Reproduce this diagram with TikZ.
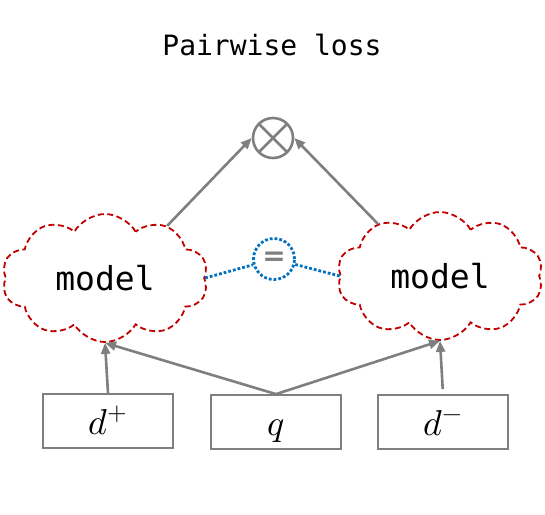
\documentclass[tikz,border=0pt]{standalone}
\usepackage{unicode-math}
\setmonofont{DejaVu Sans Mono}
\setmathfont{Latin Modern Math}
\newfontfamily\eqfont{DejaVu Sans}
\usetikzlibrary{shapes.symbols, arrows.meta}
\definecolor{linegray}{HTML}{7F7F7F}
\definecolor{cloudred}{HTML}{C00000}
\definecolor{eqblue}{HTML}{0070C0}

\begin{document}
\begin{tikzpicture}[x=1pt, y=-1pt,
	inbox/.style = {draw = linegray, line width = 1.8pt, minimum width = 130pt, minimum height = 54pt, text height = 26pt, text depth = 0pt, font = \fontsize{36}{38}\selectfont},
	model/.style = {cloud, cloud puffs = 10, cloud puff arc = 120, aspect = 1.7, draw = cloudred, dash pattern = on 6pt off 3.5pt, line width = 1.8pt, minimum width = 206pt, minimum height = 128pt, font = \ttfamily\fontsize{33}{35}\selectfont},
	arr/.style = {draw = linegray, line width = 2.6pt, -{Triangle[length = 11pt, width = 9pt]}},
	otimes/.style = {circle, draw = linegray, line width = 2.6pt, minimum size = 40pt, inner sep = 0pt, path picture = {\draw[linegray, line width = 2.6pt] (path picture bounding box.north west) -- (path picture bounding box.south east) (path picture bounding box.north east) -- (path picture bounding box.south west);}}
	]
	\useasboundingbox (0, 0) rectangle (545, 514);
	
	\node[font = \ttfamily\fontsize{28}{30}\selectfont] (title) at (272, 45) {Pairwise loss};
	
	\node[otimes] (ox) at (273, 138) {};
	\node[circle, draw = eqblue, dotted, line width = 2.8pt, minimum size = 41pt, inner sep = 0pt, text = linegray, font = \eqfont\bfseries\fontsize{28}{28}\selectfont] (eq) at (274, 259) {=};
	
	\node[model] (lm) at (105, 278) {model};
	\node[model] (rm) at (440, 276) {model};
	
	\node[inbox] (dp) at (108, 421) {$d^{+}$};
	\node[inbox] (q) at (276, 422) {$q$};
	\node[inbox] (dn) at (443, 422) {$d^{-}$};
	
	\draw[arr] (dp.north) -- (lm.south);
	\draw[arr] (q.north) -- (lm.south);
	\draw[arr] (q.north) -- (rm.south);
	\draw[arr, shorten <= 5pt] (dn.north) -- (rm.south);
	
	\draw[arr] (lm.40) -- (ox.west);
	\draw[arr] (rm.140) -- (ox.east);
	
	\draw[eqblue, dotted, line width = 2.8pt] (lm.east) -- (eq) -- (rm.west);
\end{tikzpicture}
\end{document}
